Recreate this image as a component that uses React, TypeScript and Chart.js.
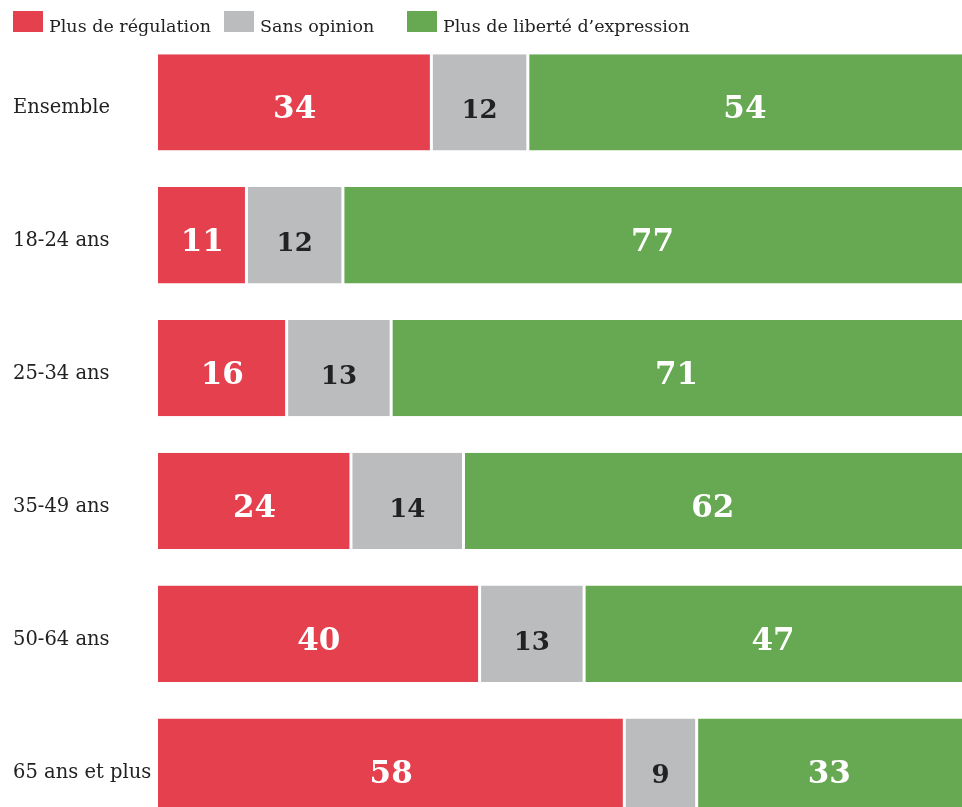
import React, { useEffect, useRef } from "react";
import { Chart, registerables } from "chart.js";

Chart.register(...registerables);

const categories = ["Ensemble", "18-24 ans", "25-34 ans", "35-49 ans", "50-64 ans", "65 ans et plus"];
const seriesNames = ["Plus de régulation", "Sans opinion", "Plus de liberté d’expression"];
const regulation = [34, 11, 16, 24, 40, 58];
const noOpinion = [12, 12, 13, 14, 13, 9];
const freedom = [54, 77, 71, 62, 47, 33];
const colors = ["#E4404D", "#BBBCBE", "#67A853"];
const labelColors = ["#ffffff", "#222222", "#ffffff"];

const SERIF = '"DejaVu Serif", serif';

const valueLabels = {
  id: "valueLabels",
  afterDatasetsDraw(chart: any) {
    const ctx = chart.ctx;
    chart.data.datasets.forEach((ds: any, di: number) => {
      const meta = chart.getDatasetMeta(di);
      meta.data.forEach((el: any, i: number) => {
        const v = ds.data[i];
        const p = el.getProps(["x", "y", "base"], true);
        const cx = (p.x + p.base) / 2;
        const gray = di === 1;
        ctx.save();
        ctx.font = `bold ${gray ? 26 : 31}px ${SERIF}`;
        ctx.fillStyle = labelColors[di];
        ctx.textAlign = "center";
        ctx.textBaseline = "alphabetic";
        ctx.fillText(String(v), cx, p.y + 16);
        ctx.restore();
      });
    });
  },
};

const legendPos = [13, 224, 407];
const borders = [
  { left: 0, right: 1.5, top: 0, bottom: 0 },
  { left: 1.5, right: 1.5, top: 0, bottom: 0 },
  { left: 1.5, right: 0, top: 0, bottom: 0 },
];

export default function App() {
  const ref = useRef<HTMLCanvasElement | null>(null);
  useEffect(() => {
    if (!ref.current) return;
    const all = [regulation, noOpinion, freedom];
    const chart = new Chart(ref.current, {
      type: "bar",
      data: {
        labels: categories,
        datasets: all.map((d, i) => ({
          label: seriesNames[i],
          data: d,
          backgroundColor: colors[i],
          borderColor: "#ffffff",
          borderWidth: borders[i],
          borderSkipped: false,
          barPercentage: 0.725,
          categoryPercentage: 1,
        })),
      },
      options: {
        indexAxis: "y",
        responsive: false,
        animation: false,
        layout: { padding: { left: 5, top: 28, bottom: 15, right: 0 } },
        plugins: { legend: { display: false }, tooltip: { enabled: false } },
        scales: {
          x: { stacked: true, min: 0, max: 100, display: false },
          y: {
            stacked: true,
            grid: { display: false },
            border: { display: false },
            ticks: {
              crossAlign: "far",
              color: "#222222",
              font: { family: SERIF, size: 19.5 },
              labelOffset: 6,
              padding: 0,
            },
            afterFit(scale: any) {
              scale.width = 145;
            },
          },
        },
      },
      plugins: [valueLabels],
    } as any);
    return () => chart.destroy();
  }, []);

  return (
    <div style={{ position: "fixed", left: 0, top: 0, width: 962, height: 807, overflow: "hidden", background: "#fff" }}>
      <canvas ref={ref} width={954} height={840} style={{ position: "absolute", left: 8, top: 8, display: "block" }} />
      {seriesNames.map((n, i) => (
        <div key={n} style={{ position: "absolute", left: legendPos[i], top: 11, display: "flex", alignItems: "flex-start", whiteSpace: "nowrap" }}>
          <span style={{ display: "inline-block", width: 30, height: 21, background: colors[i] }} />
          <span style={{ marginLeft: 6, fontFamily: SERIF, fontSize: 17.5, color: "#222", lineHeight: "21px", position: "relative", top: 5 }}>{n}</span>
        </div>
      ))}
    </div>
  );
}
